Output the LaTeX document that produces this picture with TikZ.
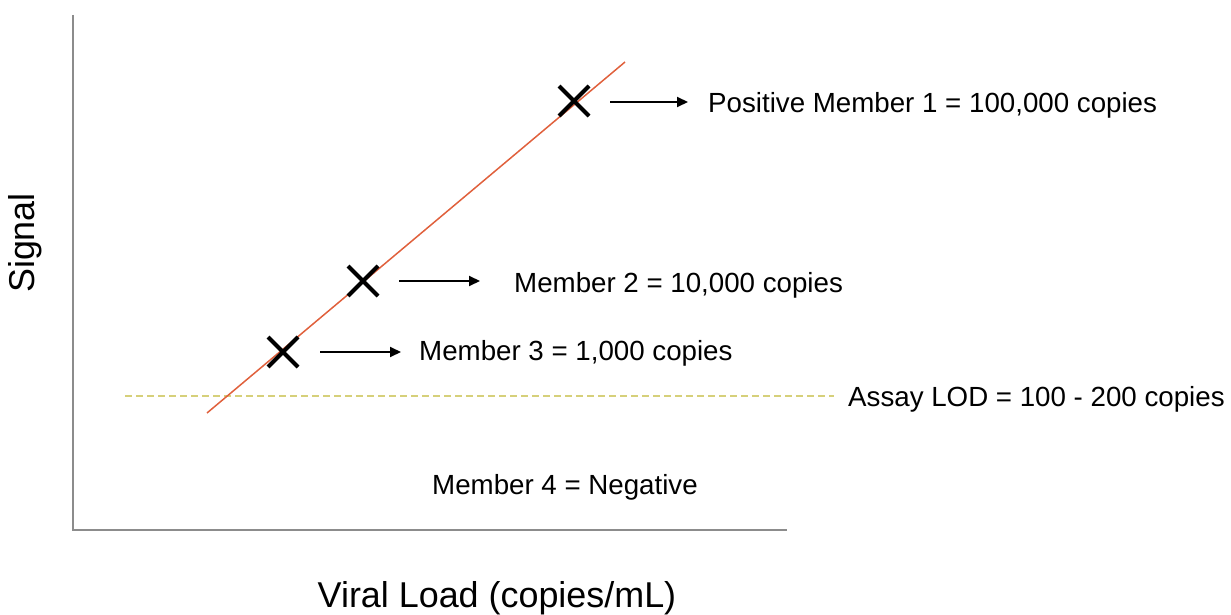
\documentclass[tikz,border=0pt]{standalone}
\usepackage{fontspec}
\setmainfont{Liberation Sans}
\usetikzlibrary{arrows.meta,shapes.misc}
\definecolor{axisgray}{HTML}{8C8C8C}
\definecolor{fitred}{HTML}{E0603C}
\definecolor{lodyellow}{HTML}{D6D07A}
\tikzset{
  lbl/.style={font=\fontsize{27.7}{33}\selectfont, inner sep=0pt, anchor=west},
  axlbl/.style={font=\fontsize{35.9}{42}\selectfont, inner sep=0pt},
  xmark/.style={cross out, draw=black, line width=4pt, minimum size=26pt, inner sep=0pt},
  ptr/.style={draw=black, line width=2pt, -{Triangle[length=11pt,width=10pt]}},
}
\begin{document}
\begin{tikzpicture}[x=1pt,y=-1pt]
\useasboundingbox (0,0) rectangle (1231,615);
% axes
\coordinate (axtop) at (72.5,15);
\coordinate (orig) at (72.5,530);
\coordinate (axend) at (787,530);
\draw[axisgray, line width=2pt] (axtop) -- (orig) -- (axend);
% LOD dashed line
\coordinate (lods) at (125,396);
\coordinate (lode) at (834,396);
\draw[lodyellow, line width=1.5pt, dash pattern=on 7pt off 4pt] (lods) -- (lode);
% fit line
\coordinate (fits) at (207,413);
\coordinate (fite) at (625,62);
\draw[fitred, line width=1.5pt] (fits) -- (fite);
% crosses
\node[xmark] (m1) at (574,101) {};
\node[xmark] (m2) at (363,281) {};
\node[xmark] (m3) at (283,352) {};
% labels
\node[lbl] (l1) at (708,105) {Positive Member 1 = 100,000 copies};
\node[lbl] (l2) at (514,285) {Member 2 = 10,000 copies};
\node[lbl] (l3) at (419,353) {Member 3 = 1,000 copies};
\node[lbl] (lod) at (848,399) {Assay LOD = 100 - 200 copies};
\node[lbl] (l4) at (432,487) {Member 4 = Negative};
% arrows
\coordinate (a1s) at (610,102); \coordinate (a1e) at (688,102);
\coordinate (a2s) at (399,281); \coordinate (a2e) at (480,281);
\coordinate (a3s) at (320,352); \coordinate (a3e) at (401,352);
\draw[ptr] (a1s) -- (a1e);
\draw[ptr] (a2s) -- (a2e);
\draw[ptr] (a3s) -- (a3e);
% axis titles
\node[axlbl, rotate=90] (ylab) at (25,243) {Signal};
\node[axlbl] (xlab) at (497,598) {Viral Load (copies/mL)};
\end{tikzpicture}
\end{document}
